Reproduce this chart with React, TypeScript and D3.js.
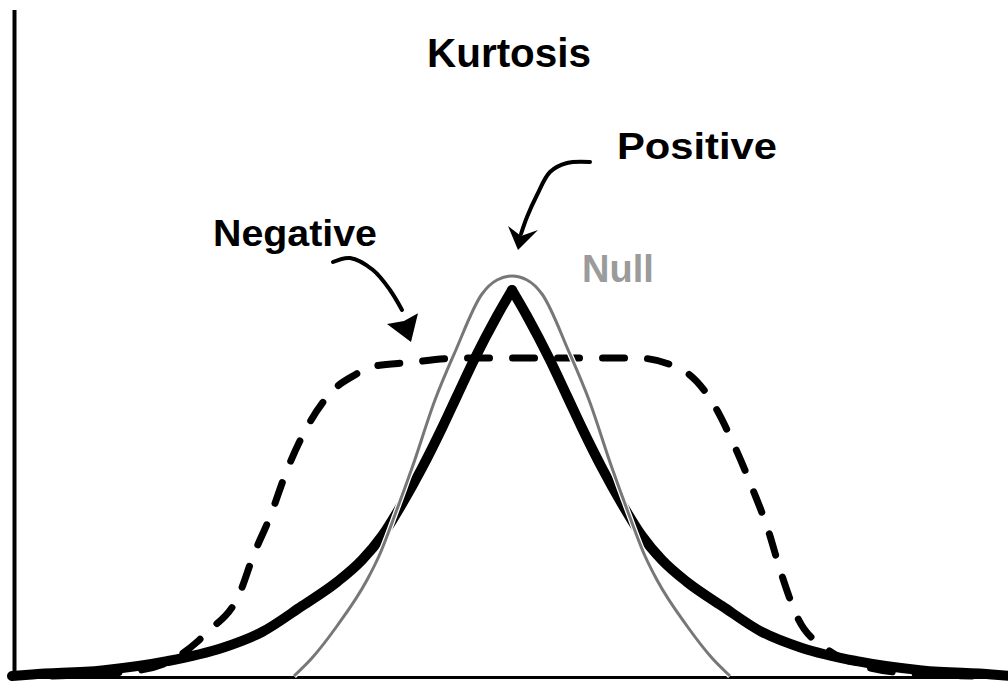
import React from "react";
import * as d3 from "d3";

// Canvas size
const W = 1008;
const H = 684;

// Null (normal) curve: right-half profile, mirrored about the centre
const nullOffsets = [0, 0.15, 0.3, 0.57, 0.77, 1.0, 1.16, 1.33, 1.45, 1.75, 2.0, 2.18];
const nullHeights = [1, 0.99, 0.955, 0.81, 0.69, 0.52, 0.41, 0.3, 0.24, 0.125, 0.045, 0];

// Positive kurtosis (peaked, heavy tails): right-half profile, mirrored
const positiveOffsets = [0, 0.15, 0.38, 0.55, 0.7, 0.9, 1.1, 1.3, 1.5, 1.75, 2.1, 2.5, 2.9, 3.45, 4.1, 4.8, 5.0];
const positiveHeights = [0.965, 0.9, 0.79, 0.7, 0.62, 0.52, 0.43, 0.35, 0.29, 0.235, 0.175, 0.11, 0.07, 0.037, 0.014, 0.004, 0];

// Negative kurtosis (flat-topped): full profile
const negativeX = [-4.6, -3.8, -3.4, -3.15, -3.05, -2.72, -2.59, -2.42, -2.25, -2.05, -1.79, -1.55, -1.45, -1.02, -0.5, 0, 0.5, 1.25, 1.71, 2.01, 2.23, 2.41, 2.56, 2.68, 2.85, 3.15, 3.45, 3.9, 4.6];
const negativeY = [0, 0.012, 0.04, 0.085, 0.109, 0.209, 0.299, 0.398, 0.515, 0.622, 0.714, 0.756, 0.771, 0.784, 0.795, 0.795, 0.795, 0.795, 0.764, 0.682, 0.572, 0.465, 0.366, 0.266, 0.149, 0.067, 0.03, 0.008, 0];

// Curved pointer arrows (data units): shaft points and head [left, tip, right, notch]
const positiveArrowShaft: [number, number][] = [[0.78, 1.285], [0.55, 1.2825], [0.38, 1.26], [0.25, 1.2025], [0.15, 1.1475], [0.09, 1.105]];
const positiveArrowHead: [number, number][] = [[-0.04, 1.125], [0.06, 1.065], [0.26, 1.115], [0.09, 1.1]];
const negativeArrowShaft: [number, number][] = [[-1.79, 1.035], [-1.62, 1.045], [-1.39, 1.015], [-1.22, 0.965], [-1.1, 0.915]];
const negativeArrowHead: [number, number][] = [[-1.25, 0.88], [-1.01, 0.835], [-0.94, 0.907], [-1.08, 0.8875]];

const FONT = "'Liberation Sans', Arial, Helvetica, sans-serif";

type Pt = [number, number];

const xScale = d3.scaleLinear().domain([-5, 5]).range([12, 1012]);
const yScale = d3.scaleLinear().domain([0, 1]).range([676, 276]);

const line = d3
  .line<Pt>()
  .x((d) => xScale(d[0]))
  .y((d) => yScale(d[1]))
  .curve(d3.curveMonotoneX);

const arrowLine = d3
  .line<Pt>()
  .x((d) => xScale(d[0]))
  .y((d) => yScale(d[1]))
  .curve(d3.curveCatmullRom.alpha(0.5));

const mirrored = (offs: number[], hs: number[]): Pt[] => {
  const left: Pt[] = offs.map((o, i) => [-o, hs[i]] as Pt).reverse();
  const right: Pt[] = offs.slice(1).map((o, i) => [o, hs[i + 1]] as Pt);
  return [...left, ...right];
};

const nullPts = mirrored(nullOffsets, nullHeights);
const positiveLeft: Pt[] = positiveOffsets.map((o, i) => [-o, positiveHeights[i]] as Pt).reverse();
const positiveRight: Pt[] = positiveOffsets.map((o, i) => [o, positiveHeights[i]] as Pt);
const negativePts: Pt[] = negativeX.map((x, i) => [x, negativeY[i]] as Pt);

const headPoints = (pts: Pt[]) => pts.map((p) => `${xScale(p[0])},${yScale(p[1])}`).join(" ");

export default function App() {
  return (
    <svg
      width={W}
      height={H}
      viewBox={`0 0 ${W} ${H}`}
      style={{ position: "absolute", left: 0, top: 0, display: "block", background: "#fff" }}
    >
      <rect x={0} y={0} width={W} height={H} fill="#fff" />

      {/* axes */}
      <line x1={14.5} y1={10} x2={14.5} y2={679} stroke="#000" strokeWidth={4} />
      <line x1={13} y1={677.5} x2={W} y2={677.5} stroke="#000" strokeWidth={3} />

      {/* negative kurtosis */}
      <path
        d={line(negativePts) || ""}
        fill="none"
        stroke="#000"
        strokeWidth={7}
        strokeDasharray="22 23"
        strokeLinecap="round"
      />

      {/* positive kurtosis */}
      <path d={line(positiveLeft) || ""} fill="none" stroke="#000" strokeWidth={10} strokeLinecap="round" strokeLinejoin="round" />
      <path d={line(positiveRight) || ""} fill="none" stroke="#000" strokeWidth={10} strokeLinecap="round" strokeLinejoin="round" />

      {/* null (normal) */}
      <path d={line(nullPts) || ""} fill="none" stroke="#fff" strokeWidth={5.5} />
      <path d={line(nullPts) || ""} fill="none" stroke="#777" strokeWidth={3} />

      {/* pointer arrows */}
      <path d={arrowLine(positiveArrowShaft) || ""} fill="none" stroke="#000" strokeWidth={4} strokeLinecap="round" />
      <polygon points={headPoints(positiveArrowHead)} fill="#000" />
      <path d={arrowLine(negativeArrowShaft) || ""} fill="none" stroke="#000" strokeWidth={4} strokeLinecap="round" />
      <polygon points={headPoints(negativeArrowHead)} fill="#000" />

      {/* labels */}
      <text x={427} y={67} fontFamily={FONT} fontWeight="bold" fontSize={41} fill="#000" textLength={164} lengthAdjust="spacingAndGlyphs">
        Kurtosis
      </text>
      <text x={617} y={159} fontFamily={FONT} fontWeight="bold" fontSize={37} fill="#000" textLength={160} lengthAdjust="spacingAndGlyphs">
        Positive
      </text>
      <text x={213} y={246} fontFamily={FONT} fontWeight="bold" fontSize={37} fill="#000" textLength={164} lengthAdjust="spacingAndGlyphs">
        Negative
      </text>
      <text x={582} y={282} fontFamily={FONT} fontWeight="bold" fontSize={38} fill="#9b9b9b">
        Null
      </text>
    </svg>
  );
}
